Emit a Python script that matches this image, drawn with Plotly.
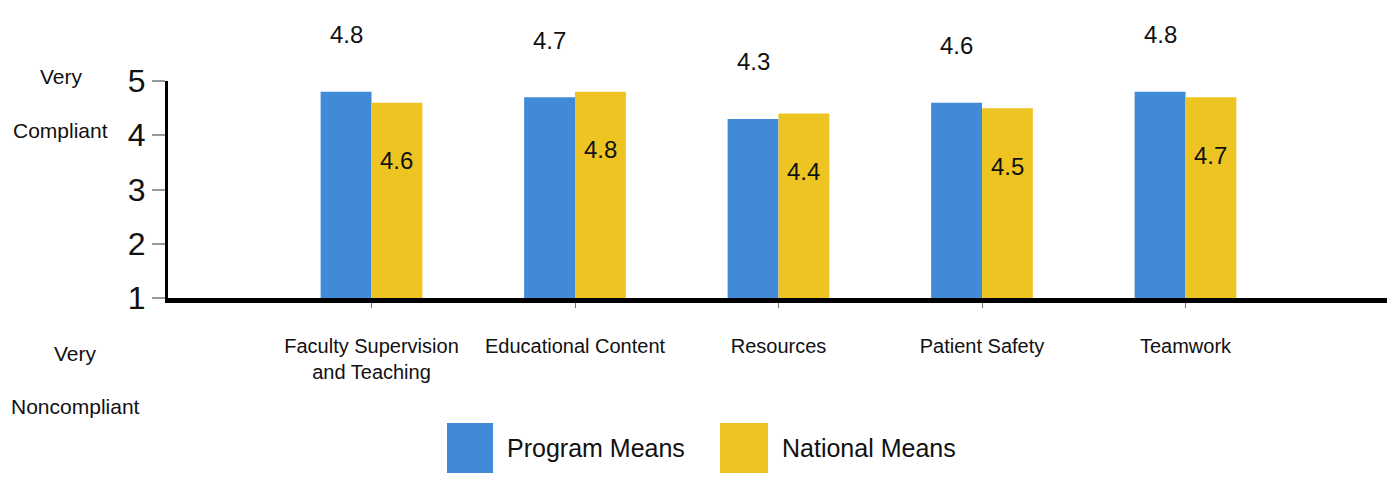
import plotly.graph_objects as go

categories = ["Faculty Supervision<br>and Teaching", "Educational Content", "Resources",
              "Patient Safety", "Teamwork"]
program_means = [4.8, 4.7, 4.3, 4.6, 4.8]
national_means = [4.6, 4.8, 4.4, 4.5, 4.7]
series_names = ["Program Means", "National Means"]
y_ticks = [1, 2, 3, 4, 5]

BLUE = "#418AD5"
YELLOW = "#EEC423"
FONT = "Liberation Sans, Arial, sans-serif"

OFF = 8  # default page body margin
W_FIG, H_FIG = 1387, 476
L, R, T = 160, 6, 73
PW = W_FIG - L - R
PH = 217
B = H_FIG - T - PH


def px_x(px):
    return (px - OFF - L) / PW


def px_y(py):
    return (T + PH - (py - OFF)) / PH


idx = list(range(len(categories)))

fig = go.Figure()
fig.add_trace(go.Bar(x=idx, y=program_means, name=series_names[0],
                     marker=dict(color=BLUE, line=dict(width=0)), showlegend=False))
fig.add_trace(go.Bar(x=idx, y=national_means, name=series_names[1],
                     marker=dict(color=YELLOW, line=dict(width=0)), showlegend=False))

annotations = []
for i, v in enumerate(program_means):
    annotations.append(dict(x=i - 0.125, y=v, xref="x", yref="y", text=f"{v:.1f}",
                            showarrow=False, yshift=57, yanchor="middle",
                            font=dict(family=FONT, size=24, color="#111")))
for i, v in enumerate(national_means):
    annotations.append(dict(x=i + 0.125, y=v, xref="x", yref="y", text=f"{v:.1f}",
                            showarrow=False, yshift=-58, yanchor="middle",
                            font=dict(family=FONT, size=24, color="#111")))

# side labels
side = [("Very", 61, 76), ("Compliant", 60, 130), ("Very", 75, 353), ("Noncompliant", 75, 406)]
for txt, cx, cy in side:
    annotations.append(dict(x=px_x(cx), y=px_y(cy), xref="paper", yref="paper", text=txt,
                            showarrow=False, xanchor="center", yanchor="middle",
                            font=dict(family=FONT, size=21, color="#111")))

# custom legend
shapes = []
legend_items = [(series_names[0], BLUE, 447, 493, 505), (series_names[1], YELLOW, 720, 768, 780)]
for name, col, x0, x1, tx in legend_items:
    shapes.append(dict(type="rect", xref="paper", yref="paper",
                       x0=px_x(x0), x1=px_x(x1), y0=px_y(473), y1=px_y(423),
                       fillcolor=col, line=dict(width=0)))
    annotations.append(dict(x=px_x(tx), y=px_y(448), xref="paper", yref="paper", text=name,
                            showarrow=False, xanchor="left", yanchor="middle",
                            font=dict(family=FONT, size=25, color="#111")))

fig.update_layout(
    width=W_FIG, height=H_FIG,
    margin=dict(l=L, r=R, t=T, b=B, pad=0, autoexpand=False),
    paper_bgcolor="white", plot_bgcolor="white",
    barmode="group", bargap=0.5, bargroupgap=0,
    showlegend=False,
    annotations=annotations, shapes=shapes,
    font=dict(family=FONT, color="#111"),
)
fig.update_xaxes(
    range=[-1, 5], tickmode="array", tickvals=idx, ticktext=categories,
    tickangle=0, automargin=False,
    showgrid=False, zeroline=False,
    showline=True, linecolor="black", linewidth=5,
    ticks="outside", ticklen=5, tickcolor="#777", tickwidth=1,
    ticklabelstandoff=21,
    tickfont=dict(family=FONT, size=20, color="#111"),
)
fig.update_yaxes(
    range=[1, 5], tickmode="array", tickvals=y_ticks, automargin=False,
    showgrid=False, zeroline=False,
    showline=True, linecolor="black", linewidth=3,
    ticks="outside", ticklen=13, tickcolor="#999", tickwidth=2,
    tickfont=dict(family=FONT, size=32, color="#111"),
)

fig.write_html("out.html")
